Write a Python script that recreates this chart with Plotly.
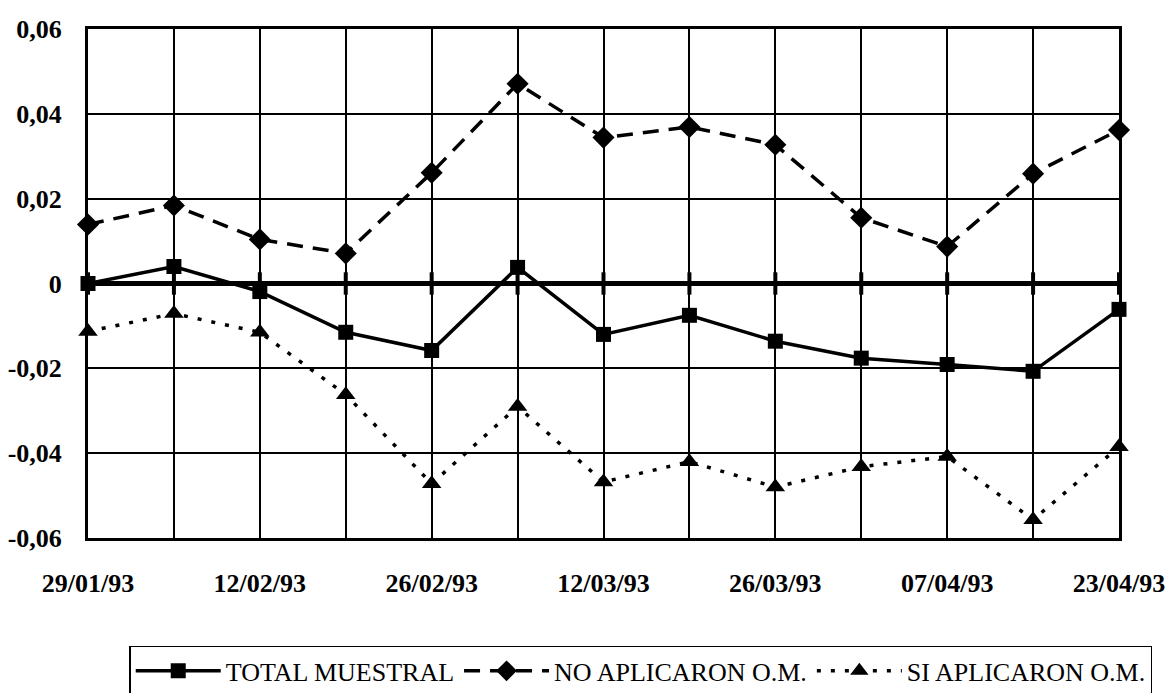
import plotly.graph_objects as go

# categories (13 weekly observations, labelled every other one)
n_points = 13
tick_labels = ["29/01/93", "", "12/02/93", "", "26/02/93", "", "12/03/93", "",
               "26/03/93", "", "07/04/93", "", "23/04/93"]

total_muestral = [0.0, 0.0040, -0.0019, -0.0115, -0.0158, 0.0038, -0.0120,
                  -0.0075, -0.0136, -0.0176, -0.0191, -0.0207, -0.0061]
no_aplicaron = [0.0139, 0.0184, 0.0104, 0.0071, 0.0261, 0.0471, 0.0344,
                0.0369, 0.0327, 0.0155, 0.0087, 0.0259, 0.0362]
si_aplicaron = [-0.0113, -0.0071, -0.0115, -0.0262, -0.0472, -0.0290, -0.0468,
                -0.0420, -0.0480, -0.0432, -0.0408, -0.0557, -0.0385]

y_ticks = [-0.06, -0.04, -0.02, 0, 0.02, 0.04, 0.06]
y_tick_text = ["-0,06", "-0,04", "-0,02", "0", "0,02", "0,04", "0,06"]

x = list(range(n_points))
SERIF = "Liberation Serif, Times New Roman, serif"

fig = go.Figure()

# small tick marks on the zero axis line
fig.add_trace(go.Scatter(
    x=x, y=[0] * n_points, mode="markers", showlegend=False, hoverinfo="skip",
    marker=dict(symbol="line-ns", size=16, line=dict(color="black", width=4)),
    cliponaxis=False,
))

fig.add_trace(go.Scatter(
    x=x, y=total_muestral, name="TOTAL MUESTRAL", mode="lines+markers",
    line=dict(color="black", width=3.5, dash="solid"),
    marker=dict(symbol="square", size=15, color="black"),
    cliponaxis=False,
))
fig.add_trace(go.Scatter(
    x=x, y=no_aplicaron, name="NO APLICARON O.M.", mode="lines+markers",
    line=dict(color="black", width=3.5, dash="16px,10px"),
    marker=dict(symbol="diamond", size=17, color="black"),
    cliponaxis=False,
))
fig.add_trace(go.Scatter(
    x=x, y=si_aplicaron, name="SI APLICARON O.M.", mode="lines+markers",
    line=dict(color="black", width=3.5, dash="4px,10px"),
    marker=dict(symbol="triangle-up", size=17, color="black"),
    cliponaxis=False,
))

fig.update_layout(
    width=1168, height=693,
    margin=dict(l=88, r=49, t=29, b=155, autoexpand=False),
    plot_bgcolor="white", paper_bgcolor="white",
    font=dict(family=SERIF, color="black"),
    showlegend=True,
    legend=dict(
        orientation="h", x=0.04, y=-0.212, xanchor="left", yanchor="top",
        bordercolor="black", borderwidth=1.5, bgcolor="white",
        font=dict(family=SERIF, size=26, color="black"),
        itemwidth=85, tracegroupgap=0,
    ),
    xaxis=dict(
        range=[0, n_points - 1], tickvals=x, ticktext=tick_labels,
        showgrid=True, gridcolor="black", gridwidth=1.5,
        showline=True, linecolor="black", linewidth=3, mirror=True,
        ticks="", ticklabelstandoff=20, zeroline=False,
        tickfont=dict(family=SERIF, size=26, weight="bold"),
    ),
    yaxis=dict(
        range=[-0.06, 0.06], tickvals=y_ticks, ticktext=y_tick_text,
        showgrid=True, gridcolor="black", gridwidth=1.5,
        showline=True, linecolor="black", linewidth=3, mirror=True,
        zeroline=True, zerolinecolor="black", zerolinewidth=5,
        ticks="", ticklabelstandoff=18,
        tickfont=dict(family=SERIF, size=26, weight="bold"),
    ),
)

fig.write_html("out.html")
